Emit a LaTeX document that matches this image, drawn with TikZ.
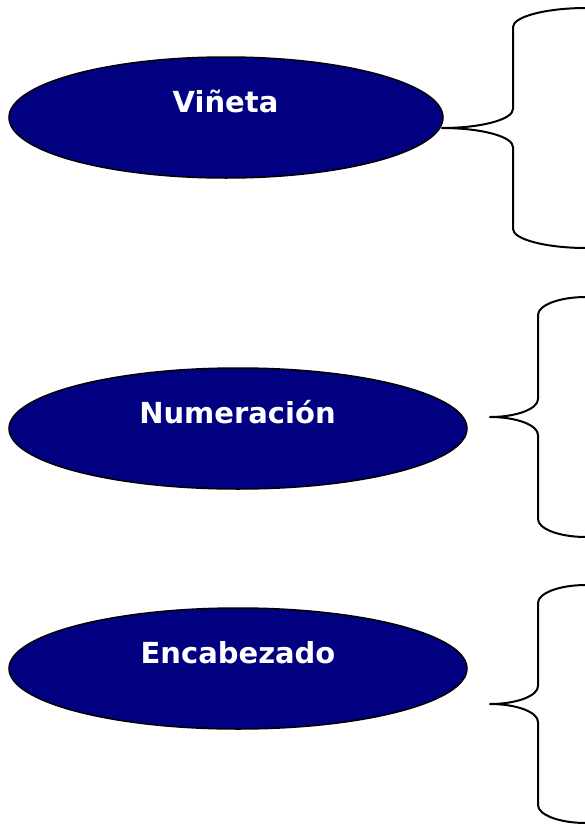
\documentclass[tikz,border=0pt]{standalone}
\usepackage{fontspec}
\setmainfont{DejaVu Sans}
\usetikzlibrary{shapes.geometric}
\definecolor{navyfill}{HTML}{000080}
\tikzset{
  oval/.style={ellipse, draw=black, line width=1.5pt, fill=navyfill, inner sep=0pt},
  ovaltext/.style={anchor=base, text=white, font=\fontsize{29}{31}\selectfont\bfseries, inner sep=0pt},
  bracestroke/.style={draw=black, line width=2pt, line join=round}
}
\newcommand{\mybrace}[8]{%
  % #1 L, #2 M, #3 R, #4 T, #5 C, #6 B, #7 ry, #8 name
  \pgfmathsetmacro{\hk}{0.5523*(#2-#1)}%
  \pgfmathsetmacro{\vk}{0.5523*#7}%
  \coordinate (#8tip) at (#1,#5);
  \coordinate (#8top) at (#3,#4);
  \coordinate (#8bot) at (#3,#6);
  \draw[bracestroke] (#8top) .. controls (#3-\hk,#4) and (#2,#4+#7-\vk) .. (#2,#4+#7)
    -- (#2,#5-#7) .. controls (#2,#5-#7+\vk) and (#1+\hk,#5) .. (#8tip)
    .. controls (#1+\hk,#5) and (#2,#5+#7-\vk) .. (#2,#5+#7)
    -- (#2,#6-#7) .. controls (#2,#6-#7+\vk) and (#3-\hk,#6) .. (#8bot);
}
\begin{document}
\begin{tikzpicture}[x=1pt,y=-1pt]
\useasboundingbox (0,0) rectangle (584,825);
% ellipses
\node[oval, minimum width=434pt, minimum height=121pt] (e1) at (226,117.5) {};
\node[oval, minimum width=458pt, minimum height=121pt] (e2) at (238,428.5) {};
\node[oval, minimum width=458pt, minimum height=121pt] (e3) at (238,668.5) {};
% texts
\node[ovaltext] (t1) at (225.5,112) {Viñeta};
\node[ovaltext] (t2) at (237.5,423) {Numeración};
\node[ovaltext] (t3) at (238,663) {Encabezado};
% braces
\mybrace{442}{513}{586}{8}{128}{248}{19}{b1}
\mybrace{490}{538}{586}{297}{417}{537}{18}{b2}
\mybrace{490}{538}{586}{585}{704}{823}{18}{b3}
\end{tikzpicture}
\end{document}
